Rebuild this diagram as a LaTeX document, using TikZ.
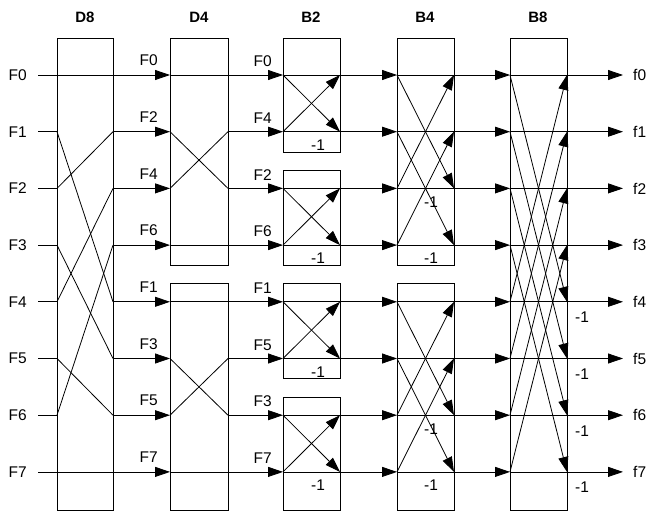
\documentclass[tikz,border=0pt]{standalone}
\usepackage{fontspec}
\setmainfont{Liberation Sans}
\usetikzlibrary{arrows.meta,positioning}

\begin{document}
\begin{tikzpicture}[
    x=1pt, y=-1pt,
    stagebox/.style={draw, line width=0.8pt},
    wire/.style={line width=0.8pt},
    arrow/.style={wire, -{Triangle[length=15pt,width=10pt]}},
    sig/.style={font=\fontsize{15.5}{17}\selectfont, inner sep=0pt},
    stagehead/.style={font=\fontsize{15}{17}\selectfont\bfseries, inner sep=0pt}
]
\useasboundingbox (0,0) rectangle (662,511);

% port coordinates, one column per box edge
\foreach \n/\x in {in/38, d8l/57, d8r/113, d4l/170, d4r/228, b2l/283, b2r/340, b4l/397, b4r/454, b8l/510, b8r/567, out/623}
  \foreach \i in {0,...,7}
    \coordinate (\n\i) at (\x,{75+56.7*\i});

% stage headers
\foreach \h/\x in {D8/85, D4/199, B2/311, B4/425, B8/538}
  \node[stagehead] (h\h) at (\x,17) {\h};

% boxes
\foreach \xa/\ya/\xb/\yb in {57/38/113/510, 170/38/228/265, 170/283/228/510,
    283/38/340/152, 283/170/340/265, 283/283/340/378, 283/397/340/510,
    397/38/454/265, 397/283/454/510, 510/38/567/510}
  \draw[stagebox] (\xa,\ya) rectangle (\xb,\yb);

% inputs
\foreach \i in {0,...,7} {
  \node[sig, left=11pt of in\i] (fin\i) {F\i};
  \draw[wire] (in\i) -- (d8l\i);
}

% D8: even / odd split
\foreach \o/\s in {0/0,1/2,2/4,3/6,4/1,5/3,6/5,7/7} {
  \draw[wire] (d8l\s) -- (d8r\o);
  \draw[arrow] (d8r\o) -- (d4l\o);
  \node[sig, above left=9pt and 12pt of d4l\o] (p\o) {F\s};
}

% D4
\foreach \o/\s/\t in {0/0/0,1/2/4,2/1/2,3/3/6,4/4/1,5/6/5,6/5/3,7/7/7} {
  \draw[wire] (d4l\s) -- (d4r\o);
  \draw[arrow] (d4r\o) -- (b2l\o);
  \node[sig, above left=8pt and 11pt of b2l\o] (q\o) {F\t};
}

% B2 butterflies
\foreach \i in {0,...,7} {
  \draw[wire] (b2l\i) -- (b2r\i);
  \draw[arrow] (b2r\i) -- (b4l\i);
}
\foreach \a/\b in {0/1,1/0,2/3,3/2,4/5,5/4,6/7,7/6}
  \draw[arrow] (b2l\a) -- (b2r\b);
\foreach \i in {1,3,5,7}
  \node[sig, below right=8pt and 28pt of b2l\i] (m2\i) {-1};

% B4 butterflies
\foreach \i in {0,...,7} {
  \draw[wire] (b4l\i) -- (b4r\i);
  \draw[arrow] (b4r\i) -- (b8l\i);
}
\foreach \a/\b in {0/2,2/0,1/3,3/1,4/6,6/4,5/7,7/5}
  \draw[arrow] (b4l\a) -- (b4r\b);
\foreach \i in {2,3,6,7}
  \node[sig, below right=8pt and 27pt of b4l\i] (m4\i) {-1};

% B8 butterflies
\foreach \i in {0,...,7} {
  \draw[wire] (b8l\i) -- (b8r\i);
  \draw[arrow] (b8r\i) -- (out\i);
  \node[sig, right=10pt of out\i] (fout\i) {f\i};
}
\foreach \a/\b in {0/4,4/0,1/5,5/1,2/6,6/2,3/7,7/3}
  \draw[arrow] (b8l\a) -- (b8r\b);
\foreach \i in {4,...,7}
  \node[sig, below right=10pt and 8pt of b8r\i] (m8\i) {-1};
\end{tikzpicture}
\end{document}
